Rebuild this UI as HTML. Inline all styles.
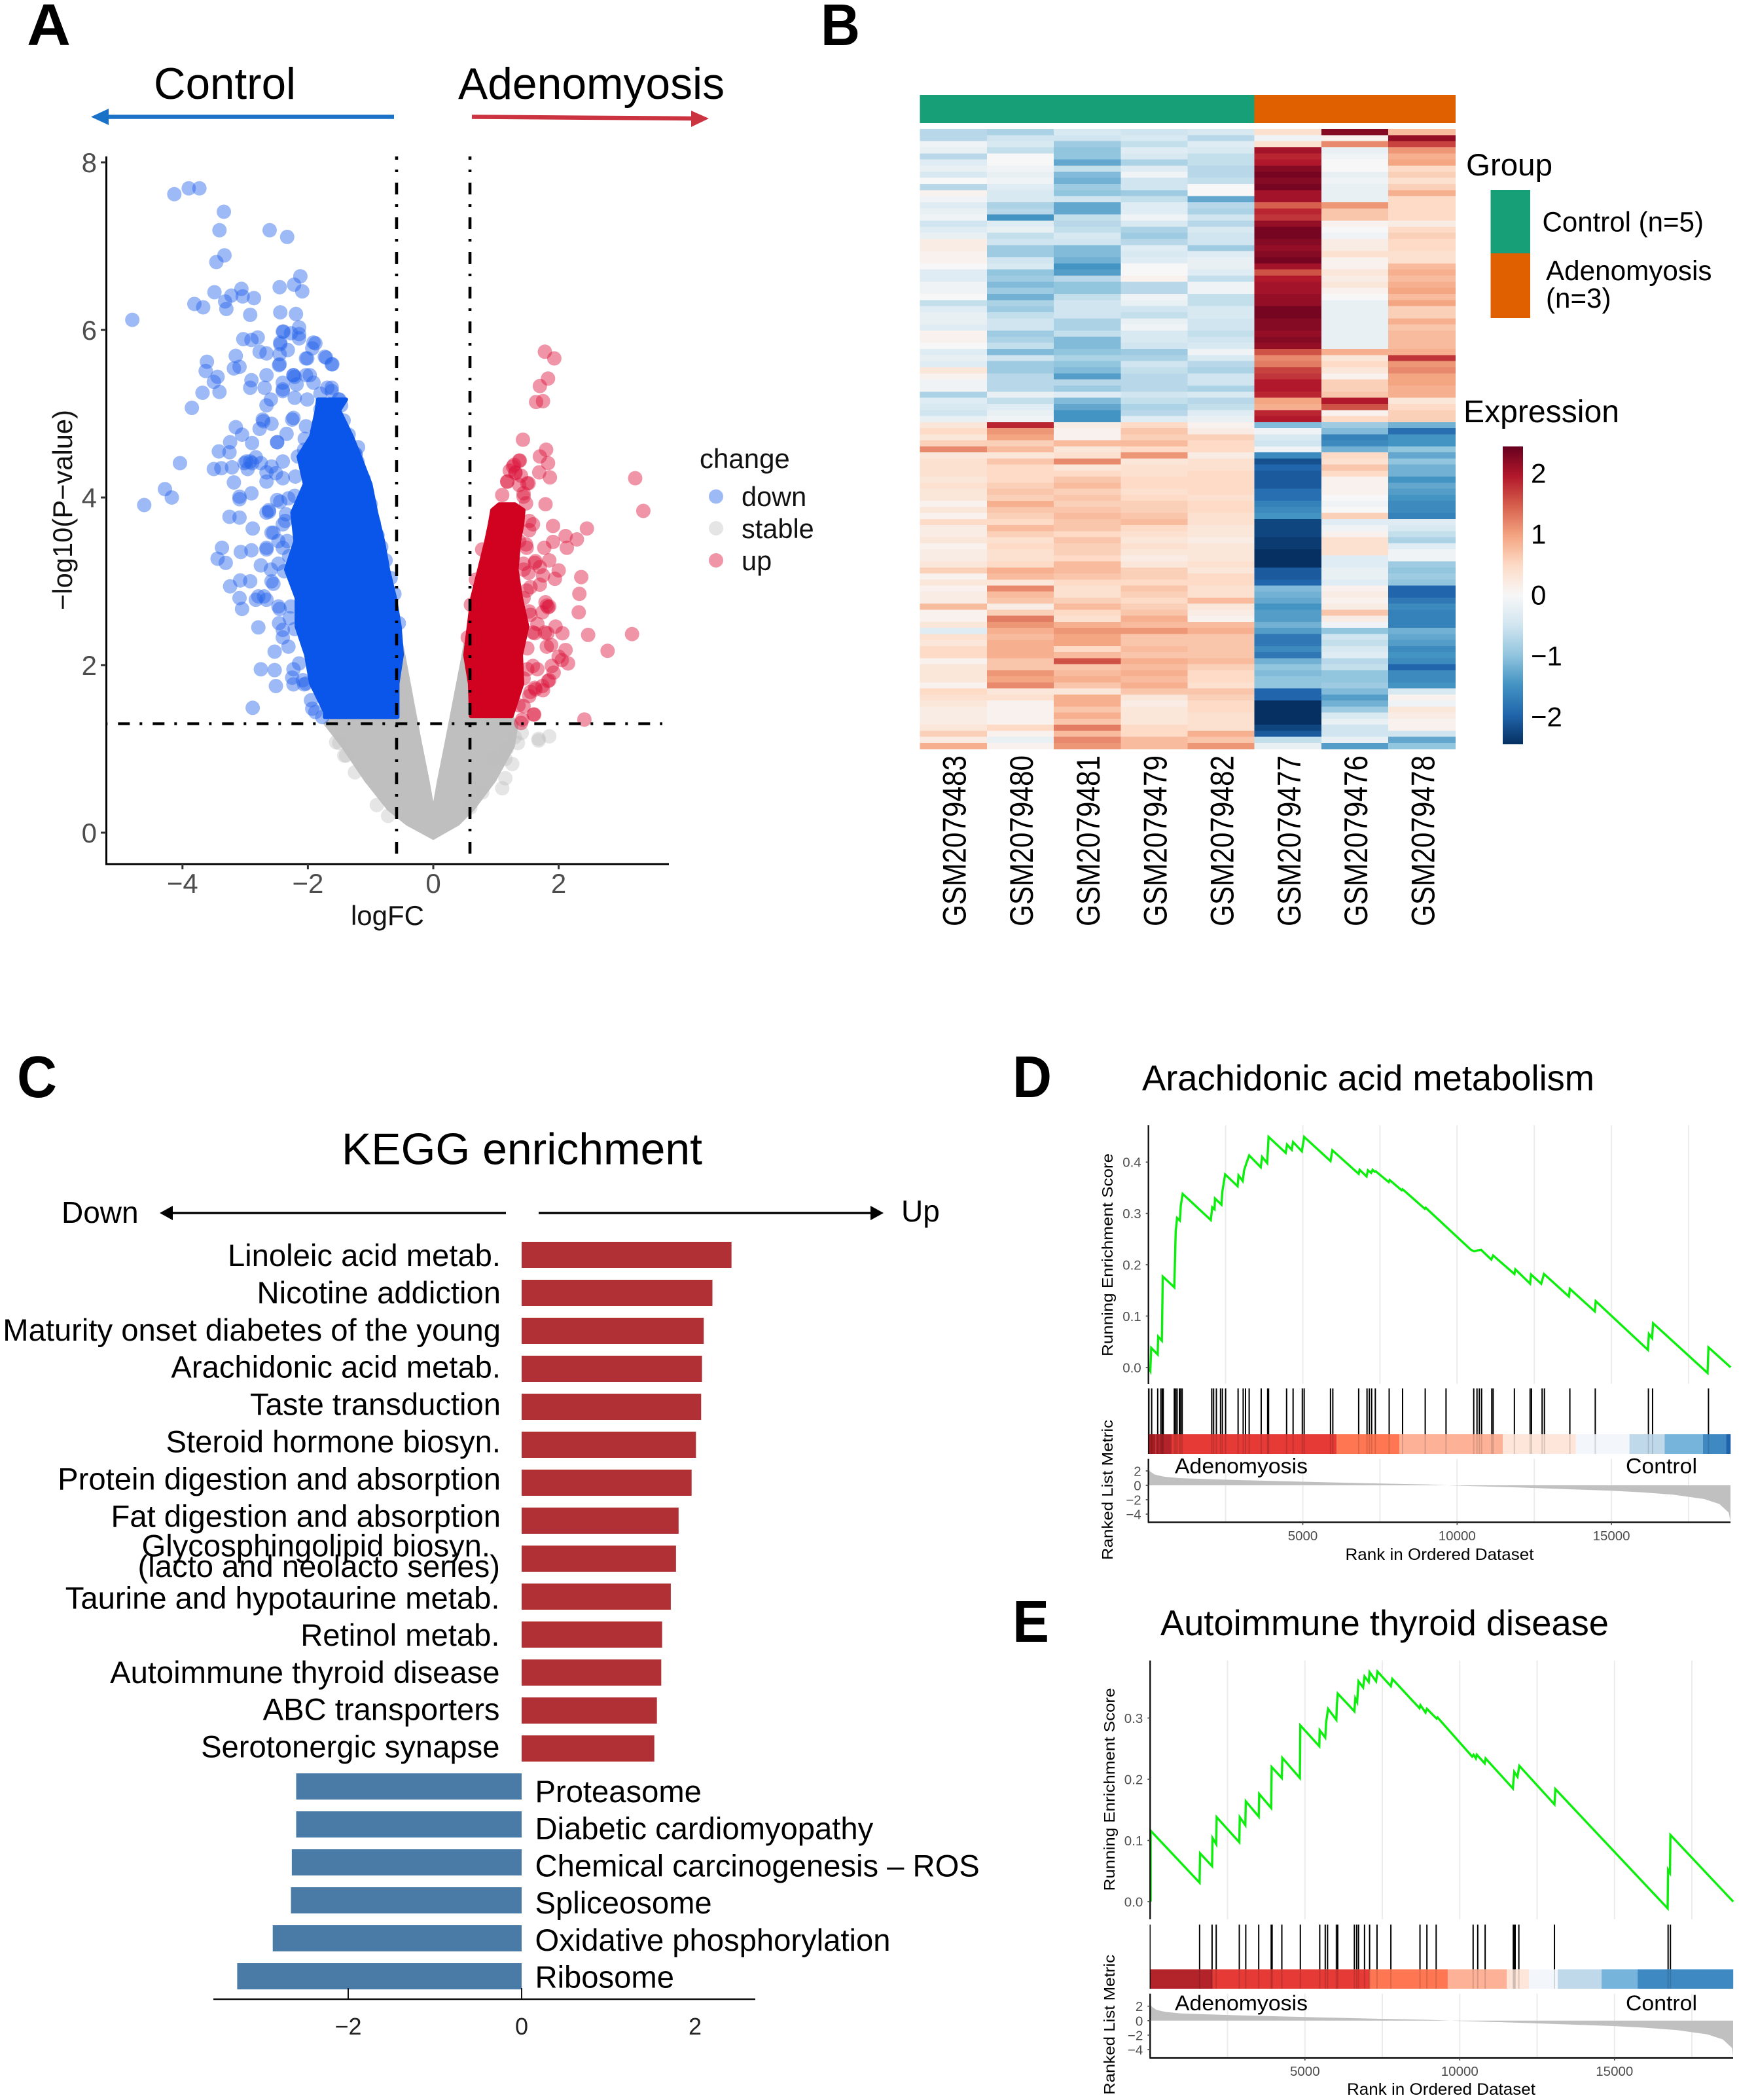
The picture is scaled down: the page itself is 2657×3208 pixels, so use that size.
<!DOCTYPE html>
<html lang="en">
<head>
<meta charset="utf-8">
<title>Adenomyosis transcriptome figure</title>
<style>
html,body{margin:0;padding:0;background:#fff;}
svg{display:block;font-family:"Liberation Sans",sans-serif;}
</style>
</head>
<body>
<svg id="figure" xmlns="http://www.w3.org/2000/svg" width="2657" height="3208" viewBox="0 0 2657 3208">
  <rect x="0" y="0" width="2657" height="3208" fill="#fff"/>

  <g font-weight="700" font-size="90" fill="#000">
    <text x="41" y="69" textLength="67" lengthAdjust="spacingAndGlyphs">A</text>
    <text x="1254" y="69" textLength="60" lengthAdjust="spacingAndGlyphs">B</text>
    <text x="26" y="1676" textLength="61" lengthAdjust="spacingAndGlyphs">C</text>
    <text x="1547" y="1676" textLength="60" lengthAdjust="spacingAndGlyphs">D</text>
    <text x="1547" y="2508" textLength="56" lengthAdjust="spacingAndGlyphs">E</text>
  </g>

  <g id="panel-a">
    <text x="235" y="151" font-size="68" textLength="217" lengthAdjust="spacingAndGlyphs">Control</text>
    <text x="700" y="151" font-size="68" textLength="407" lengthAdjust="spacingAndGlyphs">Adenomyosis</text>
    <g>
      <line x1="602" y1="178.5" x2="160" y2="178.5" stroke="#1a72c8" stroke-width="6.5"/>
      <polygon points="139,178.5 166,166 166,191" fill="#1a72c8"/>
    </g>
    <g>
      <line x1="721" y1="178.5" x2="1060" y2="181" stroke="#cc3340" stroke-width="6.5"/>
      <polygon points="1083,181 1056,169 1056,194" fill="#cc3340"/>
    </g>
    <g id="volcano-marks"></g>
    <g id="volcano-axes"></g>
    <text x="592" y="1413" font-size="42" text-anchor="middle" fill="#111">logFC</text>
    <text transform="translate(110 779) rotate(-90)" font-size="42" text-anchor="middle" textLength="306" lengthAdjust="spacingAndGlyphs" fill="#111">−log10(P−value)</text>
    <g>
      <text x="1069" y="715" font-size="42" fill="#111">change</text>
      <circle cx="1094" cy="758.5" r="11" fill="#2563eb" fill-opacity=".45"/>
      <circle cx="1094" cy="807" r="11" fill="#bdbdbd" fill-opacity=".4"/>
      <circle cx="1094" cy="856" r="11" fill="#dc143c" fill-opacity=".45"/>
      <text x="1133" y="773" font-size="41.5" fill="#111">down</text>
      <text x="1133" y="822" font-size="41.5" fill="#111">stable</text>
      <text x="1133" y="871" font-size="41.5" fill="#111">up</text>
    </g>
  </g>

  <g id="panel-b">
    <g id="heat-cells"></g>
    <g id="heat-labels"></g>
    <text x="2240" y="268" font-size="47.5">Group</text>
    <rect x="2277.5" y="290" width="60.5" height="97" fill="#17a077"/>
    <rect x="2277.5" y="387" width="60.5" height="99" fill="#e06000"/>
    <text x="2356.5" y="353.5" font-size="43" textLength="246.5" lengthAdjust="spacingAndGlyphs">Control (n=5)</text>
    <text x="2362" y="428" font-size="43" textLength="253.5" lengthAdjust="spacingAndGlyphs">Adenomyosis</text>
    <text x="2362" y="470" font-size="43" textLength="99.5" lengthAdjust="spacingAndGlyphs">(n=3)</text>
    <text x="2236" y="645" font-size="48" textLength="238" lengthAdjust="spacingAndGlyphs">Expression</text>
    <defs>
      <linearGradient id="rdbu" x1="0" y1="0" x2="0" y2="1">
        <stop offset="0" stop-color="#67001f"/>
        <stop offset=".1" stop-color="#b2182b"/>
        <stop offset=".2" stop-color="#d6604d"/>
        <stop offset=".3" stop-color="#f4a582"/>
        <stop offset=".4" stop-color="#fddbc7"/>
        <stop offset=".5" stop-color="#f7f7f7"/>
        <stop offset=".6" stop-color="#d1e5f0"/>
        <stop offset=".7" stop-color="#92c5de"/>
        <stop offset=".8" stop-color="#4393c3"/>
        <stop offset=".9" stop-color="#2166ac"/>
        <stop offset="1" stop-color="#053061"/>
      </linearGradient>
    </defs>
    <rect x="2296" y="682" width="31" height="455" fill="url(#rdbu)"/>
    <g id="colorbar-ticks"></g>
  </g>

  <g id="panel-c">
    <text x="522" y="1778.5" font-size="68" textLength="551" lengthAdjust="spacingAndGlyphs">KEGG enrichment</text>
    <text x="94" y="1868" font-size="46">Down</text>
    <text x="1377" y="1866" font-size="46">Up</text>
    <g>
      <line x1="773" y1="1853" x2="258" y2="1853" stroke="#000" stroke-width="3.5"/>
      <polygon points="244,1853 264,1842 264,1864" fill="#000"/>
    </g>
    <g>
      <line x1="823" y1="1853" x2="1335" y2="1853" stroke="#000" stroke-width="3.5"/>
      <polygon points="1350,1853 1330,1842 1330,1864" fill="#000"/>
    </g>
    <g id="kegg-marks"></g>
    <g id="kegg-axis"></g>
  </g>

  <g id="panel-d">
    <text x="1745" y="1665.5" font-size="55" textLength="691" lengthAdjust="spacingAndGlyphs">Arachidonic acid metabolism</text>
  </g>
  <g id="panel-e">
    <text x="1773" y="2498" font-size="55" textLength="685" lengthAdjust="spacingAndGlyphs">Autoimmune thyroid disease</text>
  </g>
</svg>

<script>
const SVG_NS = 'http://www.w3.org/2000/svg';
function mk(parent, tag, attrs) {
  const node = document.createElementNS(SVG_NS, tag);
  for (const k in attrs) node.setAttribute(k, attrs[k]);
  parent.appendChild(node);
  return node;
}
function label(parent, x, y, str, size, extra) {
  const node = mk(parent, 'text', Object.assign({x: x, y: y, 'font-size': size}, extra || {}));
  node.textContent = str;
  return node;
}
</script>

<script>
/* Volcano plot data: [logFC, -log10(P)] */
const downPoints = [[-4.13,7.62],[-3.90,7.69],[-3.73,7.69],[-3.34,7.41],[-3.41,7.19],[-2.61,7.19],[-2.33,7.11],[-3.33,6.89],[-3.46,6.81],[-2.12,6.64],[-2.22,6.54],[-2.45,6.51],[-2.09,6.46],[-3.49,6.45],[-3.06,6.49],[-3.22,6.41],[-3.04,6.40],[-2.86,6.38],[-3.32,6.34],[-3.81,6.31],[-3.67,6.27],[-3.30,6.25],[-4.80,6.12],[-2.92,6.18],[-2.44,6.21],[-2.19,6.19],[-3.03,5.89],[-2.80,5.91],[-2.90,5.88],[-2.39,5.98],[-2.14,6.03],[-2.27,5.96],[-1.88,5.84],[-2.14,5.90],[-2.44,5.85],[-1.93,5.78],[-2.77,5.74],[-2.66,5.72],[-2.32,5.76],[-2.45,5.71],[-3.15,5.69],[-1.71,5.67],[-2.01,5.66],[-3.61,5.62],[-1.61,5.59],[-2.45,5.59],[-3.63,5.51],[-3.18,5.54],[-3.09,5.56],[-3.44,5.44],[-2.66,5.46],[-2.23,5.46],[-1.97,5.46],[-2.90,5.40],[-3.50,5.38],[-2.40,5.37],[-2.92,5.31],[-2.69,5.31],[-2.18,5.35],[-3.68,5.25],[-3.41,5.26],[-2.40,5.27],[-3.85,5.07],[-1.80,5.24],[-1.50,5.17],[-1.62,5.31],[-2.01,5.17],[-2.71,4.91],[-2.23,4.95],[-1.71,5.09],[-3.15,4.84],[-2.77,4.82],[-2.49,4.66],[-3.05,4.75],[-2.58,4.88],[-3.24,4.66],[-2.89,4.65],[-3.42,4.55],[-3.25,4.54],[-2.06,4.57],[-1.24,4.52],[-2.83,4.48],[-3.01,4.41],[-4.04,4.41],[-2.75,4.41],[-4.28,4.10],[-4.17,4.00],[-4.61,3.91],[-3.50,4.34],[-3.38,4.35],[-3.21,4.36],[-2.96,4.34],[-2.58,4.37],[-3.18,4.18],[-2.66,4.30],[-2.40,4.23],[-3.09,4.01],[-2.90,4.05],[-2.49,3.97],[-2.62,3.83],[-3.25,3.77],[-3.09,3.76],[-2.88,3.63],[-2.58,3.58],[-2.36,3.72],[-3.37,3.40],[-3.07,3.35],[-2.90,3.37],[-3.44,3.27],[-3.31,3.22],[-2.66,3.40],[-2.40,3.40],[-2.75,3.19],[-3.24,2.94],[-3.08,3.01],[-2.92,3.00],[-2.58,3.00],[-3.09,2.80],[-2.83,2.78],[-2.66,2.78],[-3.05,2.67],[-2.45,2.67],[-2.79,2.45],[-2.40,2.42],[-2.53,2.16],[-2.75,1.95],[-2.53,1.94],[-2.23,1.95],[-2.51,1.75],[-2.23,1.77],[-2.88,1.49],[-2.06,1.77],[-1.93,1.48]];
const downFringePoints = [[-1.62,5.27],[-1.51,5.17],[-1.47,5.10],[-1.43,4.92],[-1.69,5.31],[-1.91,5.37],[-2.03,5.46],[-2.21,5.44],[-2.14,5.95],[-2.40,5.98],[-2.44,5.83],[-1.91,5.85],[-1.73,5.68],[-1.62,5.59],[-2.03,5.66],[-2.46,5.58],[-2.23,5.46],[-2.40,5.29],[-2.21,5.19],[-2.66,5.10],[-2.59,5.17],[-2.72,4.93],[-2.25,4.93],[-2.03,4.85],[-2.49,4.66],[-2.34,4.76],[-1.24,4.51],[-1.21,4.43],[-1.11,4.22],[-1.00,3.92],[-.89,3.55],[-.83,3.41],[-.68,3.04],[-2.16,4.49],[-2.40,4.43],[-2.51,4.29],[-2.66,4.19],[-2.89,4.41],[-2.92,4.43],[-2.98,4.43],[-3.09,3.98],[-2.66,3.82],[-2.62,3.85],[-2.40,3.68],[-2.31,3.99],[-2.21,4.02],[-2.44,3.95],[-2.55,3.58],[-2.47,3.48],[-2.33,3.48],[-2.66,3.38],[-2.47,3.21],[-2.59,3.14],[-2.38,3.12],[-2.55,2.97],[-2.70,2.82],[-2.79,2.82],[-2.47,2.70],[-2.27,2.70],[-2.29,2.56],[-2.46,2.50],[-2.40,2.33],[-2.31,2.22],[-2.21,2.43],[-2.14,2.02],[-2.25,1.85],[-2.08,1.82],[-1.95,1.58],[-1.88,1.44],[-1.77,1.38],[-2.03,1.78],[-2.30,3.30],[-2.35,3.80],[-2.20,4.25],[-2.05,4.70],[-1.80,5.05],[-1.35,4.75],[-1.20,4.60],[-.95,3.70],[-.76,3.25],[-.62,2.85],[-.55,2.50]];
const upPoints = [[1.78,5.74],[1.93,5.66],[1.83,5.42],[1.70,5.33],[1.75,5.15],[1.64,5.14],[1.43,4.69],[1.80,4.57],[1.70,4.49],[1.38,4.44],[1.83,4.41],[1.27,4.37],[1.69,4.30],[1.31,4.30],[1.86,4.24],[1.18,4.19],[1.40,4.26],[1.50,4.17],[3.22,4.23],[3.35,3.84],[1.10,4.03],[1.44,4.01],[1.79,3.92],[1.53,3.72],[1.91,3.66],[2.45,3.63],[2.11,3.54],[2.29,3.50],[1.91,3.47],[2.13,3.40],[1.77,3.40],[1.49,3.40],[1.85,3.25],[1.62,3.22],[2.00,3.13],[1.44,3.14],[2.36,3.05],[1.94,3.03],[1.70,2.96],[2.33,2.85],[1.49,2.89],[1.79,2.75],[1.83,2.69],[2.32,2.63],[1.53,2.64],[1.95,2.46],[2.06,2.38],[2.47,2.36],[3.17,2.37],[1.62,2.38],[1.82,2.38],[2.78,2.17],[2.11,2.18],[1.88,2.24],[2.00,2.10],[2.15,2.02],[1.66,1.95],[1.92,1.91],[2.05,2.06],[1.83,1.81],[1.62,1.73],[1.44,1.84],[1.75,1.70],[1.53,1.63],[1.60,1.41],[1.42,1.35],[2.41,1.35],[1.36,1.52],[1.75,3.07],[1.66,2.49]];
const upFringePoints = [[1.22,4.32],[1.29,4.39],[1.18,4.19],[1.37,4.15],[1.52,4.17],[1.31,4.29],[1.44,4.05],[1.48,3.93],[1.37,4.44],[1.59,3.68],[1.53,3.61],[1.37,3.48],[1.48,3.44],[1.63,3.24],[1.44,3.21],[1.52,3.10],[1.70,3.17],[1.55,2.93],[1.44,2.80],[1.81,2.71],[1.85,2.70],[1.74,2.63],[1.55,2.60],[1.59,2.39],[1.78,2.39],[1.59,1.99],[1.63,1.71],[1.55,1.68],[1.74,1.75],[1.44,1.51],[1.40,1.31],[1.61,1.41],[1.85,1.82],[1.89,1.99],[1.81,2.22],[.55,2.33],[1.50,2.20],[1.50,1.95],[.78,3.38],[.68,3.02],[.60,2.72]];
const stablePoints = [[1.41,1.19],[1.30,1.14],[1.35,1.07],[1.17,1.00],[1.15,.88],[1.26,.82],[.96,.88],[1.15,.65],[1.10,.53],[.78,.48],[.59,.30],[1.68,1.12],[1.68,1.10],[1.85,1.15],[-1.42,.92],[-1.25,.72],[-.90,.33],[-1.55,1.08],[-.72,.20],[-1.50,1.07],[-1.39,.92]];
/* Density envelopes of the overplotted clouds */
const downCoreP = [1.38,1.445,1.78,2.125,2.46,2.80,3.14,3.48,3.82,4.16,4.49,4.73,5.04,5.17];
const downCoreLeft = [-1.73,-1.73,-1.95,-2.03,-2.18,-2.18,-2.35,-2.20,-2.25,-2.05,-2.15,-1.95,-1.86,-1.84];
const downCoreRight = [-.57,-.57,-.57,-.50,-.535,-.61,-.72,-.80,-.91,-1.00,-1.17,-1.30,-1.50,-1.39];
const upCoreP = [1.39,1.78,2.12,2.46,2.80,3.14,3.48,3.68,3.85,3.92];
const upCoreLeft = [.60,.583,.508,.564,.62,.732,.844,.90,.94,1.05];
const upCoreRight = [1.25,1.42,1.40,1.50,1.40,1.33,1.37,1.42,1.44,1.30];
const stableP = [-.07,.1,.28,.62,1.03,1.3,2.1,2.25];
const stableLeftOuter = [0,-.42,-.72,-1.08,-1.45,-1.73,-.55,-.5];
const stableLeftInner = [0,0,0,-.08,-.19,-.26,-.46,-.5];
const stableRightInner = [0,0,0,.08,.19,.26,.467,.5];
const stableRightOuter = [0,.4,.64,.98,1.28,1.34,.56,.54];
const volcanoXTicks = [-4,-2,0,2];
const volcanoYTicks = [0,2,4,6,8];
const logFcCut = 0.585;
const pValueCut = 1.3;

const vx = v => 662 + v * 95.8;
const vy = v => 1272 - v * 128;
const vMarks = document.getElementById('volcano-marks');
const vAxes = document.getElementById('volcano-axes');
function envelope(ps, a, b) {
  const pts = [];
  ps.forEach((p, i) => pts.push(vx(a[i]) + ',' + vy(p)));
  for (let i = ps.length - 1; i >= 0; i--) pts.push(vx(b[i]) + ',' + vy(ps[i]));
  return pts.join(' ');
}
function cloud(pts, fill, sw, name) {
  const el = mk(vMarks, 'polygon', {points: pts, fill: fill, stroke: fill, 'stroke-width': sw, 'stroke-linejoin': 'round'});
  
  
}
cloud(envelope(stableP, stableLeftOuter, stableLeftInner), '#bfbfbf', 4, 'stable-cloud-left');
cloud(envelope(stableP, stableRightInner, stableRightOuter), '#bfbfbf', 4, 'stable-cloud-right');
stablePoints.forEach(d => {
  const el = mk(vMarks, 'circle', {cx: vx(d[0]), cy: vy(d[1]), r: 11, fill: '#bdbdbd', 'fill-opacity': .4});
  
  
});
downPoints.concat(downFringePoints).forEach(d => {
  const el = mk(vMarks, 'circle', {cx: vx(d[0]), cy: vy(d[1]), r: 11, fill: '#2563eb', 'fill-opacity': .45});
  
  
});
upPoints.concat(upFringePoints).forEach(d => {
  const el = mk(vMarks, 'circle', {cx: vx(d[0]), cy: vy(d[1]), r: 11, fill: '#dc143c', 'fill-opacity': .45});
  
  
});
cloud(envelope(downCoreP, downCoreLeft, downCoreRight), '#0a55ea', 6, 'down-cloud-core');
cloud(envelope(upCoreP, upCoreLeft, upCoreRight), '#d0021f', 6, 'up-cloud-core');

[-logFcCut, logFcCut].forEach(v => {
  const el = mk(vMarks, 'line', {x1: vx(v), x2: vx(v), y1: 239, y2: 1320, stroke: '#000', 'stroke-width': 4.6, 'stroke-dasharray': '18 15 4 16', 'stroke-dashoffset': 13});
  
  
});
const pCutLine = mk(vMarks, 'line', {x1: 162, x2: 1012, y1: vy(pValueCut), y2: vy(pValueCut), stroke: '#000', 'stroke-width': 4.4, 'stroke-dasharray': '18 15 4 16', 'stroke-dashoffset': 34.7});



const vAxisY = mk(vAxes, 'line', {x1: 162.5, x2: 162.5, y1: 239, y2: 1321.5, stroke: '#000', 'stroke-width': 3});


const vAxisX = mk(vAxes, 'line', {x1: 161, x2: 1022, y1: 1320, y2: 1320, stroke: '#000', 'stroke-width': 3});


volcanoXTicks.forEach(t => {
  const tick = mk(vAxes, 'line', {x1: vx(t), x2: vx(t), y1: 1320, y2: 1328, stroke: '#333', 'stroke-width': 3});
  
  
  const tl = label(vAxes, vx(t), 1364, String(t).replace('-', '−'), 42, {'text-anchor': 'middle', fill: '#4d4d4d'});
  
  
});
volcanoYTicks.forEach(t => {
  const tick = mk(vAxes, 'line', {x1: 154, x2: 162, y1: vy(t), y2: vy(t), stroke: '#333', 'stroke-width': 3});
  
  
  const tl = label(vAxes, 148, vy(t) + 15, String(t), 42, {'text-anchor': 'end', fill: '#4d4d4d'});
  
  
});
</script>

<script>
/* Heatmap z-scores per sample; rows run top to bottom */
const sampleNames = ['GSM2079483','GSM2079480','GSM2079481','GSM2079479','GSM2079482','GSM2079477','GSM2079476','GSM2079478'];
const sampleGroups = ['Control','Control','Control','Control','Control','Adenomyosis','Adenomyosis','Adenomyosis'];
const gsm2079483 = [-.7,-.7,-.1,-.2,-.7,-.3,-.2,-.4,0,-.7,.1,-.1,-.3,-.2,-.1,-.5,-.3,-.2,.2,.2,.1,.1,0,-.3,-.3,-.1,-.1,0,-.6,-.3,-.2,-.2,-.3,.1,.1,0,-.3,-.2,-.3,.3,.1,-.1,-.1,-.8,-.3,-.4,-.5,-.2,
 .3,.5,.3,.6,1.2,.3,.4,.4,.4,.3,.4,.3,.3,.1,.3,.1,.5,.2,.2,.3,.1,.2,.2,.3,.6,.1,.3,.1,.2,.2,.8,.1,.1,.3,-.3,.4,.3,.5,.5,.1,.3,.3,.3,.1,.5,.4,.3,.2,.2,.2,.3,.6,.2,.9];
const gsm2079480 = [-.8,-.5,-.4,-.6,0,0,-.1,-.2,-.1,-.3,-.4,-.4,-.8,-.7,-1.5,-.3,-.2,-.6,-.5,-.9,-.9,-.5,-.4,-1,-.9,-1.1,-.9,-1.2,-.8,-.9,-.6,-.5,-.5,-.9,-.8,-.6,-1.1,-.5,-.9,-.9,-.7,-.7,-.7,-.2,-.6,-.3,-.2,-.1,
 1.9,1.1,1,.6,.8,.3,.7,.5,.5,.5,.6,.7,.6,.9,.7,.6,.5,.8,.6,.4,.5,.4,.4,.5,.9,.8,.3,1.2,.8,.7,.2,.6,1.3,1.1,.9,.8,.9,.9,.9,.7,.7,1.1,1,1.2,.3,.4,.1,.1,.1,.1,.5,.1,-.2,.1];
const gsm2079481 = [-.4,-.5,-.9,-1,-1,-1.3,-.6,-1.1,-1.2,-.9,-1,-.5,-1.3,-1.3,-.6,-.7,-.6,-.4,-.5,-1.1,-1.1,-1.2,-1.5,-1.4,-.7,-1,-1,-.6,-.5,-.5,-.5,-.8,-.8,-.6,-1.1,-1.1,-1,-.8,-1,-1.1,-1.4,-.7,-.9,-.3,-1.1,-1.3,-1.5,-1.5,
 .2,.1,.1,.8,.3,.4,1.2,.3,.5,.7,.8,.6,.7,.6,.7,.8,.7,.7,.5,.7,.6,.6,.5,.8,.8,.7,.5,.4,.4,.6,.8,.5,.4,.9,1.1,1,1,.5,.8,1.6,.7,.8,.9,.7,.3,.9,.9,.7,.9,.7,1.3,.8,1.2,1.1];
const gsm2079479 = [-.5,-.4,-.6,-.3,-.4,-.8,-.3,-.1,-.5,-.5,-.9,-.6,-.3,-.3,-.1,-.4,-.8,-.9,-.7,-.3,-.4,-.3,0,0,.1,-.7,-.7,-.1,-.2,-.5,-.6,-.2,-.1,-.4,-.4,-.5,-.9,-.8,-.5,-.6,-.7,-.7,-.7,-.5,-.6,-.8,-.7,-.3,
 .5,.7,.6,.8,.5,1.1,.3,.4,.4,.5,.5,.4,.5,.6,.6,.7,.8,.5,.4,.3,.4,.3,.2,.3,.6,.6,.5,.7,.6,.5,.6,.7,.9,.8,1.1,.7,.7,.8,.7,.9,.8,.9,.8,.9,.7,.3,.2,.3,.3,.3,.5,.5,.8,.8];
const gsm2079482 = [-.4,-.7,-.3,-.4,-.6,-.6,-.7,-.7,-.6,0,0,-1.3,-.7,-.8,-.5,-.7,-.4,-.5,-.5,-.9,-.3,-.2,-.2,-.3,-.6,-.1,-.1,-.6,-.6,-.4,-.4,-.5,-.5,-.6,-.5,-.4,-.1,-.4,-.7,-.8,-.5,-.5,-.8,-.4,-.7,-.6,-.3,-.2,
 .1,.2,.6,.5,.5,.2,.4,.4,.5,.5,.5,.5,.4,.5,.5,.4,.4,.3,.3,.2,.3,.3,.3,.4,.3,.5,.5,.4,.4,.8,.3,.2,.1,.8,.9,.7,.7,.7,.7,.8,.6,.5,.5,.4,.7,.6,.5,.5,.4,.4,.4,.9,.7,1.1];
const gsm2079477 = [.4,-.1,.4,2.1,1.9,2,2.3,2.4,2.3,2.4,2.1,2.1,1.5,1.9,1.8,2.2,2.4,2.4,2.3,2.2,2.3,2.4,2.1,1.6,2,2.1,2.1,2.2,2.2,2.4,2.4,2.3,2.3,2.2,2.3,2.2,1.6,1.2,1.3,1.7,1.8,2,2,1.9,1,.9,1.9,2,
 -1.1,-.1,-.4,-.5,-.1,-1.6,-2.2,-2,-2.1,-2.1,-2.1,-1.9,-1.9,-1.7,-1.6,-1.5,-2.3,-2.3,-2.3,-2.4,-2.4,-2.5,-2.5,-2.5,-2.1,-2.1,-2,-1.1,-1.2,-1.3,-1.5,-1.4,-1.4,-1.2,-1.4,-1.8,-1.8,-1.6,-1.8,-1.2,-1,-1.1,-1,-1,-2,-2,-2.5,-2.5,-2.5,-2.5,-2.3,-2.1,-.6,-.2];
const gsm2079476 = [2.3,.1,1.2,-.2,-.1,0,0,-.2,-.1,-.2,-.2,-.2,1.1,.7,.7,.1,0,-.1,.2,.2,.4,.1,.1,.3,.2,.3,.1,0,-.2,-.2,-.2,-.2,-.2,-.2,-.2,-.2,.9,.3,.5,.3,.1,.6,.6,.7,2,1.6,.1,.5,
 -.9,-1.1,-1.7,-1.6,-1.2,.5,.4,.7,.5,.1,.1,.1,0,-.1,0,.6,-.3,-.1,.1,.4,.4,.4,-.3,-.3,-.2,-.2,-.3,.1,.2,.1,.2,.7,.2,-.1,-1,-.5,-.6,-.4,-.3,-.7,-.6,-1,-1,-.9,-1.1,-1.4,-1.2,-.9,-.4,-.2,-.5,-.5,-.2,-1.4];
const gsm2079478 = [.8,2.2,1.7,1.1,.9,1,.5,.6,.4,.6,.9,.5,.5,.5,.5,.2,.5,.6,.5,.5,.4,.4,.8,.9,.8,.9,1,.8,1,.6,.6,.9,.7,.8,.8,.8,.9,1.8,1.1,1.2,1,1,.9,.9,.3,.5,.6,.6,
 -1.2,-1.9,-1.5,-1.5,-1,-1.3,-1,-1.2,-1.2,-1.5,-1.3,-1.4,-1.5,-1.6,-1.6,-1.7,-.3,-.4,-.6,-.8,-.3,-.1,-.1,-.9,-1,-.9,-1,-2,-2,-1.8,-1.6,-1.7,-1.7,-1.7,-1.2,-1.3,-1.4,-1.6,-1.5,-1.6,-2,-1.6,-1.6,-1.5,-.4,.1,-.1,.3,.2,.1,.1,-.5,-1.3,-1];
const upperClusterRows = 48;
const colorbarTicks = [2,1,0,-1,-2];
const colormapValues = [-2.5,-2,-1.5,-1,-.5,0,.5,1,1.5,2,2.5];
const colormapColors = ['#053061','#2166ac','#4393c3','#92c5de','#d1e5f0','#f7f7f7','#fddbc7','#f4a582','#d6604d','#b2182b','#67001f'];

const sampleColumns = [gsm2079483, gsm2079480, gsm2079481, gsm2079479, gsm2079482, gsm2079477, gsm2079476, gsm2079478];
const heatG = document.getElementById('heat-cells');
const heatLabels = document.getElementById('heat-labels');
const colW = (2223.4 - 1405.6) / sampleNames.length;
function rowEdge(i, n) {
  return i <= upperClusterRows
    ? 197 + (645 - 197) * i / upperClusterRows
    : 645 + (1144 - 645) * (i - upperClusterRows) / (n - upperClusterRows);
}
function hexRgb(h) { return [1, 3, 5].map(k => parseInt(h.substr(k, 2), 16)); }
function zColor(v) {
  const c = Math.max(-2.5, Math.min(2.5, v));
  let i = 0;
  while (i < colormapValues.length - 2 && c > colormapValues[i + 1]) i++;
  const t = (c - colormapValues[i]) / (colormapValues[i + 1] - colormapValues[i]);
  const a = hexRgb(colormapColors[i]);
  const b = hexRgb(colormapColors[i + 1]);
  return 'rgb(' + a.map((q, k) => Math.round(q + (b[k] - q) * t)).join(',') + ')';
}
sampleColumns.forEach((col, c) => {
  const x0 = 1405.6 + c * colW;
  const anno = mk(heatG, 'rect', {x: x0, y: 145, width: colW + .5, height: 43, fill: sampleGroups[c] === 'Control' ? '#17a077' : '#e06000', 'shape-rendering': 'crispEdges'});
  
  
  col.forEach((v, r) => {
    const y0 = rowEdge(r, col.length);
    const y1 = rowEdge(r + 1, col.length);
    const cell = mk(heatG, 'rect', {x: x0, y: y0, width: colW + .5, height: y1 - y0 + .5, fill: zColor(v), 'shape-rendering': 'crispEdges'});
    
    
  });
  const xc = x0 + colW / 2 + 19;
  const tl = label(heatLabels, 0, 0, sampleNames[c], 50, {transform: 'translate(' + xc + ' 1415) rotate(-90)', textLength: 261, lengthAdjust: 'spacingAndGlyphs'});
  
  
});
const cbG = document.getElementById('colorbar-ticks');
colorbarTicks.forEach(t => {
  const yy = 910 - t * 93;
  const tl = label(cbG, 2339, yy + 13.5, String(t).replace('-', '−'), 42);
  
  
});
</script>

<script>
/* KEGG enrichment scores */
const keggTerms = ['Linoleic acid metab.','Nicotine addiction','Maturity onset diabetes of the young','Arachidonic acid metab.','Taste transduction','Steroid hormone biosyn.','Protein digestion and absorption','Fat digestion and absorption','Glycosphingolipid biosyn.|(lacto and neolacto series)','Taurine and hypotaurine metab.','Retinol metab.','Autoimmune thyroid disease','ABC transporters','Serotonergic synapse','Proteasome','Diabetic cardiomyopathy','Chemical carcinogenesis – ROS','Spliceosome','Oxidative phosphorylation','Ribosome'];
const keggScores = [2.42,2.20,2.10,2.08,2.07,2.01,1.96,1.81,1.78,1.72,1.62,1.61,1.56,1.53,-2.60,-2.60,-2.65,-2.66,-2.87,-3.28];
const keggAxisTicks = [-2,0,2];

const kx = v => 797 + v * 132.5;
const kegMarks = document.getElementById('kegg-marks');
const kegAxis = document.getElementById('kegg-axis');
keggScores.forEach((v, i) => {
  const top = 1897 + 58 * i;
  const bar = mk(kegMarks, 'rect', {x: Math.min(kx(0), kx(v)), y: top, width: Math.abs(kx(v) - kx(0)), height: 40, fill: v > 0 ? '#b03035' : '#4a7ba6'});
  
  
  const parts = keggTerms[i].split('|');
  if (v > 0) {
    if (parts.length === 2) {
      const a = label(kegMarks, 749, 2377.5, parts[0], 47.2, {'text-anchor': 'end'});
      
      
      const b = label(kegMarks, 764, 2409, parts[1], 47.2, {'text-anchor': 'end'});
      
      
    } else {
      const by = i < 8 ? 1934 + 56.9 * i : 2457.5 + 56.7 * (i - 9);
      const tl = label(kegMarks, i < 8 ? 765 : 763.5, by, parts[0], 47.2, {'text-anchor': 'end'});
      
      
    }
  } else {
    const tl = label(kegMarks, 817.5, 2753 + 56.7 * (i - 14), parts[0], 47.2);
    
    
  }
});
const kLine = mk(kegAxis, 'line', {x1: 326, x2: 1154, y1: 3054, y2: 3054, stroke: '#111', 'stroke-width': 2.5});


keggAxisTicks.forEach(t => {
  if (t < 2) {
    const tick = mk(kegAxis, 'line', {x1: kx(t), x2: kx(t), y1: 3037, y2: 3054, stroke: '#111', 'stroke-width': 2});
    
    
  }
  const tl = label(kegAxis, kx(t), 3108, String(t).replace('-', '−'), 36, {'text-anchor': 'middle', fill: '#222'});
  
  
});
</script>

<script>
/* GSEA running scores, gene hits, ranked list metric */
const arachidonicRanks = [0,60,90,300,314,434,464,838,883,928,1018,1048,1108,2021,2066,2141,2156,2365,2395,2485,2889,2919,3054,3099,3174,3264,3638,3683,3847,3892,4446,4491,4641,4686,4970,5045,5898,5958,6811,6841,7066,7111,7216,7261,7335,7365,7784,7814,8204,8234,8952,8982,10449,10554,10674,10778,11107,11167,11856,11886,12365,12395,12725,12814,13623,13653,14461,14491,16183,16213,16318,16348,18114,18144,18862];
const arachidonicScores = [0,-.007,.038,.025,.060,.052,.177,.156,.265,.291,.286,.315,.338,.287,.312,.308,.329,.317,.343,.376,.353,.374,.363,.384,.398,.413,.390,.410,.398,.449,.418,.434,.424,.439,.421,.449,.402,.423,.377,.385,.372,.384,.379,.385,.381,.382,.361,.365,.345,.347,.309,.311,.229,.226,.228,.229,.210,.218,.182,.191,.163,.181,.163,.182,.138,.153,.109,.129,.034,.065,.057,.086,-.011,.039,0];
const arachidonicHits = [15,105,300,404,449,479,838,883,928,1003,1048,1093,2051,2111,2201,2335,2395,2500,2904,3069,3144,3263,3653,3862,3892,4476,4686,4985,5045,5898,5973,6811,7081,7156,7231,7350,7799,8234,8967,9641,10539,10644,10719,10793,11123,11168,11856,12365,12410,12754,12829,13653,14476,16198,16333,18144];
const arachidonicBandEdges = [0,225,748,6093,8129,11482,13847,15584,16722,17964,18713,18862];
const arachidonicBandColors = ['#a51c22','#b2232a','#e53a36','#ff7653','#fdb197','#fee6da','#f3f7fc','#c0d9ea','#77b4dc','#3f89c3','#1f63ab'];
const thyroidRanks = [15,15,1597,1612,2000,2015,2134,2149,2880,2895,3075,3089,3507,3522,3910,3925,4254,4269,4836,4851,5463,5478,5656,5686,5746,6015,6030,6060,6597,6627,6686,6731,6880,6925,7060,7089,7298,7343,7776,7821,8701,8731,8895,8940,9254,9283,10403,10448,10522,10552,10806,10836,11716,11761,11866,11925,13060,13089,16716,16731,16791,16806,18835];
const thyroidScores = [0,.116,.031,.079,.058,.104,.094,.138,.097,.138,.125,.164,.139,.176,.153,.220,.202,.235,.202,.288,.254,.280,.268,.293,.315,.297,.321,.340,.311,.332,.326,.360,.350,.368,.359,.375,.360,.376,.352,.364,.316,.321,.309,.315,.299,.301,.237,.240,.234,.240,.226,.234,.185,.212,.204,.222,.159,.184,-.011,.052,.047,.109,0];
const thyroidHits = [1597,2000,2134,2880,3089,3507,3910,3940,4254,4851,5478,5656,5731,6015,6060,6597,6672,6731,6925,7089,7328,7776,8716,8940,9239,10433,10582,10821,11731,11761,11791,11910,13060,16731,16806];
const thyroidBandEdges = [0,2015,7089,9612,11522,12239,13164,14582,15746,18835];
const thyroidBandColors = ['#b2232a','#e53a36','#ff7653','#fdb197','#fee6da','#f3f7fc','#c0d9ea','#77b4dc','#3f89c3'];
const metricRanks = [0,60,200,500,1000,2000,3000,5000,7000,9000,9700,10000,12000,14000,15000,16000,17000,18000,18500,18800,18862];
const metricValues = [2.3,1.9,1.5,1.2,1.0,.85,.72,.5,.3,.12,0,-.04,-.3,-.6,-.75,-.98,-1.3,-1.9,-2.6,-3.8,-5];
const arachidonicScoreTicks = [0,.1,.2,.3,.4];
const thyroidScoreTicks = [0,.1,.2,.3];
const metricTicks = [2,0,-2,-4];
const rankTicks = [5000,10000,15000];
const rankGrid = [2500,5000,7500,10000,12500,15000,17500];

function drawGsea(root, cfg, ranks, scores, hits, edges, colors, scoreTicks) {
  const rx = r => cfg.x0 + r * cfg.xPerRank;
  const sy = s => cfg.score0 - s * cfg.scorePerUnit;
  const my = m => cfg.metric0 - m * cfg.metricPerUnit;
  rankGrid.forEach(r => {
    [[cfg.top, cfg.topBottom], [cfg.metricTop, cfg.metricBottom]].forEach(span => {
      const g = mk(root, 'line', {x1: rx(r), x2: rx(r), y1: span[0], y2: span[1], stroke: '#ececec', 'stroke-width': 2});
      
      
    });
  });
  const line = mk(root, 'polyline', {points: ranks.map((r, i) => rx(r) + ',' + sy(scores[i])).join(' '), fill: 'none', stroke: '#0cee0c', 'stroke-width': 3.4, 'stroke-linejoin': 'miter'});
  
  
  edges.slice(0, -1).forEach((e, i) => {
    const band = mk(root, 'rect', {x: rx(e), y: cfg.bandTop, width: rx(edges[i + 1]) - rx(e), height: cfg.bandBottom - cfg.bandTop, fill: colors[i]});
    
    
  });
  hits.forEach(h => {
    const rug = mk(root, 'line', {x1: rx(h), x2: rx(h), y1: cfg.rugTop, y2: cfg.bandTop, stroke: '#000', 'stroke-width': 2});
    
    
    const over = mk(root, 'line', {x1: rx(h), x2: rx(h), y1: cfg.bandTop, y2: cfg.bandBottom, stroke: '#000', 'stroke-opacity': .14, 'stroke-width': 2});
    
    
  });
  const areaPts = [rx(metricRanks[0]) + ',' + my(0)];
  metricRanks.forEach((r, i) => areaPts.push(Math.min(rx(r), cfg.x1) + ',' + my(metricValues[i])));
  areaPts.push(cfg.x1 + ',' + my(0));
  const area = mk(root, 'polygon', {points: areaPts.join(' '), fill: '#c0c0c0'});
  
  

  const ax1 = mk(root, 'line', {x1: cfg.x0, x2: cfg.x0, y1: cfg.top, y2: cfg.topBottom, stroke: '#111', 'stroke-width': 2.4});
  
  
  const ax2 = mk(root, 'line', {x1: cfg.x0, x2: cfg.x0, y1: cfg.metricTop, y2: cfg.metricBottom, stroke: '#111', 'stroke-width': 2.4});
  
  
  const ax3 = mk(root, 'line', {x1: cfg.x0 - 1, x2: cfg.x1, y1: cfg.metricBottom, y2: cfg.metricBottom, stroke: '#111', 'stroke-width': 2.6});
  
  
  const ax4 = mk(root, 'line', {x1: cfg.x0, x2: cfg.x0, y1: cfg.rugTop, y2: cfg.bandBottom, stroke: '#111', 'stroke-width': 1.6});
  
  

  scoreTicks.forEach(t => {
    const tick = mk(root, 'line', {x1: cfg.x0 - 4, x2: cfg.x0, y1: sy(t), y2: sy(t), stroke: '#444', 'stroke-width': 1.6});
    
    
    const tl = label(root, cfg.x0 - 11, sy(t) + 7.5, t.toFixed(1), 20.5, {'text-anchor': 'end', fill: '#4d4d4d'});
    
    
  });
  metricTicks.forEach(t => {
    const tick = mk(root, 'line', {x1: cfg.x0 - 4, x2: cfg.x0, y1: my(t), y2: my(t), stroke: '#444', 'stroke-width': 1.6});
    
    
    const tl = label(root, cfg.x0 - 11, my(t) + 7.5, String(t).replace('-', '−'), 20.5, {'text-anchor': 'end', fill: '#4d4d4d'});
    
    
  });
  rankTicks.forEach(t => {
    const tick = mk(root, 'line', {x1: rx(t), x2: rx(t), y1: cfg.metricBottom, y2: cfg.metricBottom + 4, stroke: '#444', 'stroke-width': 1.6});
    
    
    const tl = label(root, rx(t), cfg.rankLabelY, String(t), 20.5, {'text-anchor': 'middle', fill: '#4d4d4d'});
    
    
  });
  const ade = label(root, 1795, cfg.phenoY, 'Adenomyosis', 32, {textLength: 203, lengthAdjust: 'spacingAndGlyphs'});
  
  
  const ctl = label(root, 2484, cfg.phenoY, 'Control', 32, {textLength: 109, lengthAdjust: 'spacingAndGlyphs'});
  
  
  const rt = label(root, cfg.rankTitleX, cfg.rankTitleY, 'Rank in Ordered Dataset', 25, {textLength: 288, lengthAdjust: 'spacingAndGlyphs'});
  
  
  const st = label(root, 0, 0, 'Running Enrichment Score', 23, {transform: 'translate(' + cfg.sideX + ' ' + cfg.scoreTitleY + ') rotate(-90)', 'text-anchor': 'middle', textLength: 310, lengthAdjust: 'spacingAndGlyphs'});
  
  
  const mt = label(root, 0, 0, 'Ranked List Metric', 23, {transform: 'translate(' + cfg.sideX + ' ' + cfg.metricTitleY + ') rotate(-90)', 'text-anchor': 'middle', textLength: 214, lengthAdjust: 'spacingAndGlyphs'});
  
  
}

drawGsea(document.getElementById('panel-d'), {
  x0: 1754.7, x1: 2644, xPerRank: .04716, top: 1719, topBottom: 2114, score0: 2088.8, scorePerUnit: 784,
  metric0: 2269, metricPerUnit: 11, rugTop: 2121, bandTop: 2191, bandBottom: 2221, metricTop: 2228.6, metricBottom: 2325.5,
  rankLabelY: 2353, phenoY: 2250.5, rankTitleX: 2055.5, rankTitleY: 2383, sideX: 1700, scoreTitleY: 1917, metricTitleY: 2276
}, arachidonicRanks, arachidonicScores, arachidonicHits, arachidonicBandEdges, arachidonicBandColors, arachidonicScoreTicks);

drawGsea(document.getElementById('panel-e'), {
  x0: 1757.3, x1: 2648, xPerRank: .0473, top: 2536.6, topBottom: 2932, score0: 2905, scorePerUnit: 935,
  metric0: 3086.8, metricPerUnit: 11.05, rugTop: 2940, bandTop: 3008.4, bandBottom: 3038, metricTop: 3045.6, metricBottom: 3143.6,
  rankLabelY: 3171, phenoY: 3070.8, rankTitleX: 2058, rankTitleY: 3200, sideX: 1703, scoreTitleY: 2733.5, metricTitleY: 3093
}, thyroidRanks, thyroidScores, thyroidHits, thyroidBandEdges, thyroidBandColors, thyroidScoreTicks);
</script>
</body>
</html>
